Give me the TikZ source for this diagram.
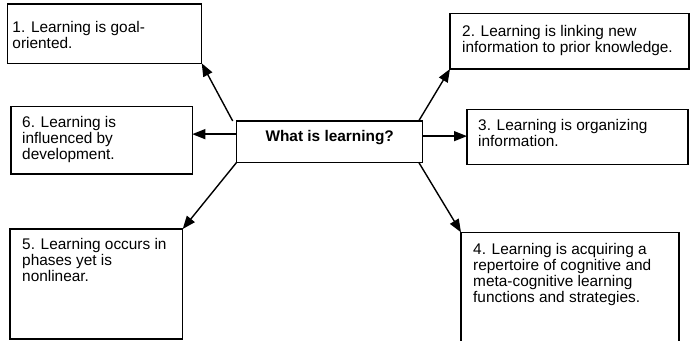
\documentclass[tikz,border=0pt]{standalone}
\usepackage{fontspec}
\setmainfont{Liberation Sans}
\usetikzlibrary{arrows.meta}
\begin{document}
\begin{tikzpicture}[x=1pt,y=1pt,
  box/.style={draw=black, line width=1.5pt, rectangle, inner sep=0pt, outer sep=0pt, anchor=north west},
  txt/.style={inner sep=0pt, anchor=north west, align=left, font=\fontsize{15.4}{16}\selectfont},
  arr/.style={line width=1.4pt, -{Triangle[length=13pt,width=10pt]}}]
\clip (0,0) rectangle (690,340);
\fill[white] (0,0) rectangle (690,340);
% boxes
\node[box, minimum width=194.4pt, minimum height=59.3pt] (b1) at (7.3,336) {};
\node[box, minimum width=239pt, minimum height=55.7pt] (b2) at (450,326.7) {};
\node[box, minimum width=181.3pt, minimum height=67.3pt] (b6) at (11,233.3) {};
\node[box, minimum width=221pt, minimum height=55pt] (b3) at (467,230.7) {};
\node[box, minimum width=172.7pt, minimum height=110pt] (b5) at (10,111) {};
\node[box, minimum width=218pt, minimum height=120pt] (b4) at (461,107.7) {};
\node[box, anchor=center, minimum width=186pt, minimum height=41.3pt, text height=10pt, text depth=10pt,
      font=\bfseries\fontsize{15.4}{16}\selectfont] (c) at (329.7,198.35) {What is learning?};
% texts
\node[txt] (t1) at (12.3,319) {1. Learning is goal-\\oriented.};
\node[txt] (t2) at (462,315) {2. Learning is linking new\\information to prior knowledge.};
\node[txt] (t6) at (22,224) {6. Learning is\\influenced by\\development.};
\node[txt] (t3) at (478,221) {3. Learning is organizing\\information.};
\node[txt] (t5) at (22,102) {5. Learning occurs in\\phases yet is\\nonlinear.};
\node[txt] (t4) at (473,97) {4. Learning is acquiring a\\repertoire of cognitive and\\meta-cognitive learning\\functions and strategies.};
% arrows
\draw[arr] ([xshift=-4pt]c.north west) -- (b1.south east);
\draw[arr] ([xshift=-4pt]c.north east) -- (b2.south west);
\draw[arr] ([yshift=7.5pt]c.west) -- ([yshift=7.5pt]c.west -| b6.east);
\draw[arr] ([yshift=5.5pt]c.east) -- ([yshift=5.5pt]c.east -| b3.west);
\draw[arr] (c.south west) -- (b5.north east);
\draw[arr] ([xshift=-4pt]c.south east) -- (b4.north west);
\end{tikzpicture}
\end{document}
